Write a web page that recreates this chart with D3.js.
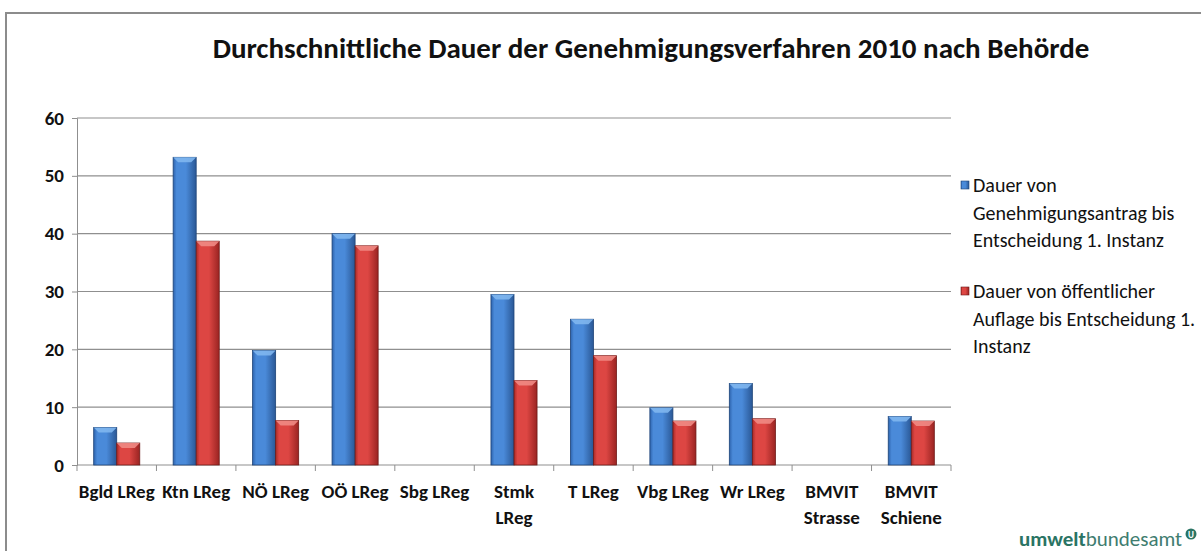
<!DOCTYPE html>
<html>
    <head>
        <meta charset="utf-8">
        <script src="https://d3js.org/d3.v7.min.js"></script>
        <style>
            body { margin: 0; background-color: #ffffff; }
            text { font-family: Calibri, Carlito, "Open Sans", sans-serif; }
        </style>
    </head>
    <body>
        <div id="chart"></div>
        <script>
            // values (days)
            const categories = ["Bgld LReg", "Ktn LReg", "NÖ LReg", "OÖ LReg", "Sbg LReg", "Stmk LReg",
                                "T LReg", "Vbg LReg", "Wr LReg", "BMVIT Strasse", "BMVIT Schiene"];
            const catLines = [["Bgld LReg"], ["Ktn LReg"], ["NÖ LReg"], ["OÖ LReg"], ["Sbg LReg"], ["Stmk", "LReg"],
                              ["T LReg"], ["Vbg LReg"], ["Wr LReg"], ["BMVIT", "Strasse"], ["BMVIT", "Schiene"]];
            const antrag  = [6.5, 53.2, 19.8, 40.0, null, 29.5, 25.2, 9.9, 14.1, null, 8.4];
            const auflage = [3.8, 38.7, 7.7, 37.9, null, 14.6, 18.9, 7.6, 8.0, null, 7.6];
            const seriesNames = ["antrag", "auflage"];
            const legendLines = [
                ["Dauer von", "Genehmigungsantrag bis", "Entscheidung 1. Instanz"],
                ["Dauer von öffentlicher", "Auflage bis Entscheidung 1.", "Instanz"]
            ];
            const yTicks = [0, 10, 20, 30, 40, 50, 60];
            const title = "Durchschnittliche Dauer der Genehmigungsverfahren 2010 nach Behörde";

            const W = 1201, H = 551;
            const svg = d3.select("#chart").append("svg").attr("width", W).attr("height", H);

            // colour ramps for the bevelled bars
            const palette = {
                antrag:  { l: "#2d63ad", m: "#4a8ad9", r: "#2a5896", cap: "#7fb6ee", edge: "#1e4478" },
                auflage: { l: "#a82a27", m: "#dd4643", r: "#9a2422", cap: "#ef8a84", edge: "#6e1a18" }
            };
            const defs = svg.append("defs");
            seriesNames.forEach(s => {
                const g = defs.append("linearGradient").attr("id", "grad-" + s)
                    .attr("x1", "0").attr("x2", "1").attr("y1", "0").attr("y2", "0");
                g.append("stop").attr("offset", "0").attr("stop-color", palette[s].l);
                g.append("stop").attr("offset", "0.15").attr("stop-color", palette[s].m);
                g.append("stop").attr("offset", "0.55").attr("stop-color", palette[s].m);
                g.append("stop").attr("offset", "1").attr("stop-color", palette[s].r);
            });

            // outer frame
            svg.append("path").attr("d", `M6,${H} L6,13 L${W},13`)
                .attr("fill", "none").attr("stroke", "#8c8c8c").attr("stroke-width", 2);

            svg.append("text").attr("x", 651).attr("y", 58).attr("text-anchor", "middle")
                .attr("font-size", 29).attr("font-weight", 600).attr("fill", "#111")
                .text(title);

            const x0 = d3.scaleBand().domain(categories).range([77, 951]);
            const bw = x0.bandwidth();
            const x1 = d3.scaleBand().domain(seriesNames).range([bw * 0.21, bw * 0.79]);
            const y = d3.scaleLinear().domain([0, 60]).range([465, 118]);

            // gridlines
            svg.append("g").selectAll("line").data(yTicks.slice(1)).join("line")
                .attr("x1", 77).attr("x2", 951).attr("y1", d => y(d)).attr("y2", d => y(d))
                .attr("stroke", "#8f8f8f").attr("stroke-width", 1.2);

            const yAxis = svg.append("g").attr("transform", "translate(77,0)")
                .call(d3.axisLeft(y).tickValues(yTicks).tickSize(5).tickPadding(8));
            yAxis.select(".domain").attr("stroke", "#8f8f8f");
            yAxis.selectAll(".tick line").attr("stroke", "#8f8f8f");
            yAxis.selectAll(".tick text").attr("font-size", 19).attr("font-weight", 600)
                .attr("fill", "#111").style("font-family", 'Calibri, Carlito, "Open Sans", sans-serif');

            // x axis with ticks between categories
            const xg = svg.append("g");
            xg.append("line").attr("x1", 77).attr("x2", 951).attr("y1", y(0)).attr("y2", y(0))
                .attr("stroke", "#8f8f8f");
            xg.selectAll(".sep").data(categories.concat(["end"])).join("line")
                .attr("x1", (d, i) => x0.range()[0] + i * bw).attr("x2", (d, i) => x0.range()[0] + i * bw)
                .attr("y1", y(0)).attr("y2", y(0) + 6).attr("stroke", "#8f8f8f");

            const lab = xg.selectAll(".cat").data(categories).join("text")
                .attr("x", d => x0(d) + bw / 2).attr("y", 498)
                .attr("text-anchor", "middle").attr("font-size", 19).attr("font-weight", 600)
                .attr("fill", "#111");
            lab.each(function(d, i) {
                d3.select(this).selectAll("tspan").data(catLines[i]).join("tspan")
                    .attr("x", x0(d) + bw / 2).attr("dy", (t, j) => j ? 26 : 0).text(t => t);
            });

            // bars
            const rows = [];
            categories.forEach((c, i) => {
                if (antrag[i] != null) rows.push({ cat: c, s: "antrag", v: antrag[i] });
                if (auflage[i] != null) rows.push({ cat: c, s: "auflage", v: auflage[i] });
            });
            const bars = svg.append("g").selectAll("g").data(rows).join("g")
                .attr("transform", d => `translate(${x0(d.cat) + x1(d.s)},0)`);
            const w = x1.bandwidth();
            bars.append("rect")
                .attr("x", 0).attr("width", w)
                .attr("y", d => y(d.v)).attr("height", d => y(0) - y(d.v))
                .attr("fill", d => `url(#grad-${d.s})`)
                .attr("stroke", d => palette[d.s].edge).attr("stroke-width", 0.8);
            bars.append("path")
                .attr("d", d => {
                    const t = y(d.v), c = Math.min(5, (y(0) - t) / 2);
                    return `M0,${t} L${w},${t} L${w - c},${t + c} L${c},${t + c} Z`;
                })
                .attr("fill", d => palette[d.s].cap).attr("opacity", 0.9);

            // legend
            const lg = svg.append("g");
            const legTop = [192, 298];
            seriesNames.forEach((s, i) => {
                lg.append("rect").attr("x", 961).attr("y", legTop[i] - 11).attr("width", 8).attr("height", 8)
                    .attr("fill", `url(#grad-${s})`).attr("stroke", palette[s].edge).attr("stroke-width", 0.6);
                const t = lg.append("text").attr("x", 973).attr("y", legTop[i])
                    .attr("font-size", 20).attr("font-weight", 500).attr("fill", "#111");
                t.selectAll("tspan").data(legendLines[i]).join("tspan")
                    .attr("x", 973).attr("dy", (d, j) => j ? 27.5 : 0).text(d => d);
            });

            // logo
            const logo = svg.append("text").attr("x", 1019).attr("y", 546)
                .attr("font-size", 21).attr("fill", "#2a7464");
            logo.append("tspan").attr("font-weight", 700).text("umwelt");
            logo.append("tspan").attr("fill", "#3f7d70").text("bundesamt");
            svg.append("circle").attr("cx", 1191).attr("cy", 534).attr("r", 5.5).attr("fill", "#2a7464");
            svg.append("text").attr("x", 1191).attr("y", 537.5).attr("text-anchor", "middle")
                .attr("font-size", 9).attr("font-weight", 700).attr("fill", "#fff").text("U");
        </script>
    </body>
</html>
